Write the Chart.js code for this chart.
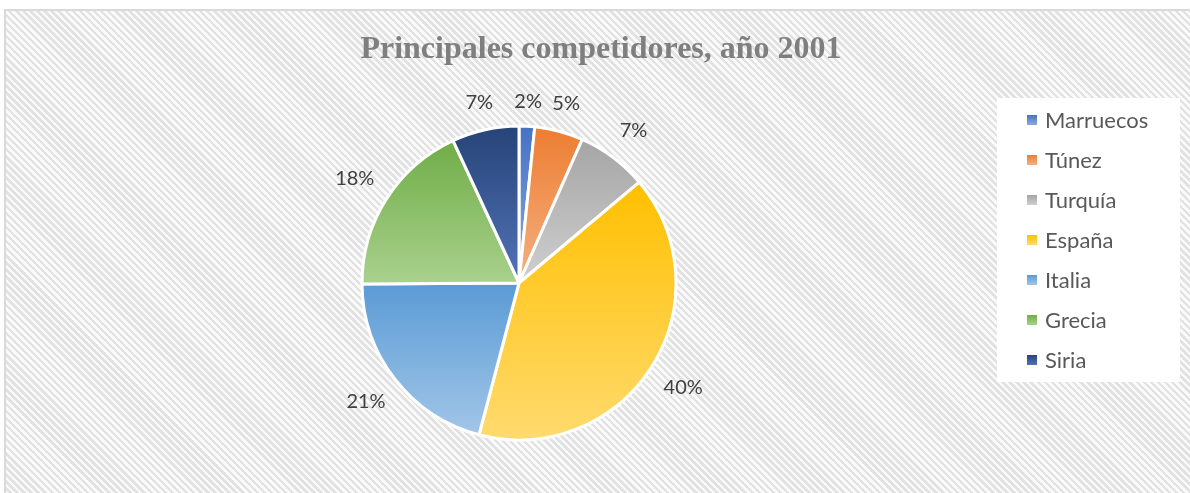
<!DOCTYPE html>
<html>
<head>
<meta charset="utf-8">
<script src="https://cdn.jsdelivr.net/npm/chart.js@4.4.1/dist/chart.umd.min.js"></script>
<style>
  body { margin: 0; background: #fff; overflow: hidden; }
  #frame {
    position: absolute; left: 4px; top: 9px; width: 1190px; height: 490px;
    border-left: 2px solid #d9d9d9; border-top: 2px solid #d9d9d9;
    background: repeating-linear-gradient(45deg, #fafafa 0 2.5px, #e2e2e2 2.5px 5px);
  }
  #wrap { position: absolute; left: 0; top: 0; width: 1190px; height: 493px; }
</style>
</head>
<body>
<div id="frame"></div>
<div id="wrap"><canvas id="pie" width="1190" height="493"></canvas></div>
<script>
// Principales competidores, año 2001 - pie chart

const chartTitle = 'Principales competidores, año 2001';
const categories = ['Marruecos', 'Túnez', 'Turquía', 'España', 'Italia', 'Grecia', 'Siria'];
const shares = [1.6, 5.0, 7.3, 40.2, 20.8, 18.2, 6.9];
const shareLabels = ['2%', '5%', '7%', '40%', '21%', '18%', '7%'];

const topColors = ['#4472c4', '#ed7d31', '#a5a5a5', '#ffc000', '#5b9bd5', '#70ad47', '#264478'];
const bottomColors = ['#8faadc', '#f4b183', '#cfcfcf', '#ffda6e', '#a2c6e8', '#a9d18e', '#5273b8'];

const PIE_RADIUS = 157;

// vertical gradient over each slice's own bounding box
function sliceGradient(ctx) {
  const chart = ctx.chart;
  const area = chart.chartArea;
  const i = ctx.dataIndex;
  if (!area) return topColors[i];
  const total = shares.reduce((a, b) => a + b, 0);
  let start = 0;
  for (let k = 0; k < i; k++) start += shares[k];
  const a0 = start / total * 2 * Math.PI;
  const a1 = (start + shares[i]) / total * 2 * Math.PI;
  const cy = (area.top + area.bottom) / 2;
  const ys = [cy, cy - PIE_RADIUS * Math.cos(a0), cy - PIE_RADIUS * Math.cos(a1)];
  if (a0 <= 0.0001) ys.push(cy - PIE_RADIUS);
  if (a0 <= Math.PI && a1 >= Math.PI) ys.push(cy + PIE_RADIUS);
  const g = chart.ctx.createLinearGradient(0, Math.min(...ys), 0, Math.max(...ys));
  g.addColorStop(0, topColors[i]);
  g.addColorStop(1, bottomColors[i]);
  return g;
}

// title, outside labels and legend box
const decorations = {
  id: 'decorations',
  afterDatasetsDraw(chart) {
    const c = chart.ctx;
    c.save();

    c.font = 'bold 32px "Liberation Serif"';
    c.fillStyle = '#7f7f7f';
    c.textAlign = 'center';
    c.textBaseline = 'alphabetic';
    c.fillText(chartTitle, 601, 58);

    const meta = chart.getDatasetMeta(0);
    c.font = '20px Lato';
    c.fillStyle = '#404040';
    c.textBaseline = 'middle';
    meta.data.forEach((arc, i) => {
      const mid = (arc.startAngle + arc.endAngle) / 2;
      const dist = arc.outerRadius + 24 + 16 * Math.abs(Math.cos(mid));
      c.fillText(shareLabels[i], arc.x + Math.cos(mid) * dist, arc.y + Math.sin(mid) * dist);
    });

    c.fillStyle = '#ffffff';
    c.fillRect(997, 98, 183, 284);
    c.font = '22px Lato';
    c.textAlign = 'left';
    categories.forEach((name, i) => {
      const y = 120 + i * 40;
      const g = c.createLinearGradient(0, y - 5, 0, y + 5);
      g.addColorStop(0, topColors[i]);
      g.addColorStop(1, bottomColors[i]);
      c.fillStyle = g;
      c.fillRect(1027, y - 5, 10, 10);
      c.fillStyle = '#595959';
      c.fillText(name, 1045, y + 1);
    });
    c.restore();
  }
};

new Chart(document.getElementById('pie'), {
  type: 'pie',
  data: {
    labels: categories,
    datasets: [{
      data: shares,
      backgroundColor: sliceGradient,
      borderColor: '#ffffff',
      borderWidth: 3,
      hoverOffset: 0,
      radius: PIE_RADIUS
    }]
  },
  options: {
    responsive: false,
    animation: false,
    layout: { padding: { left: 0, right: 152, top: 110, bottom: 37 } },
    plugins: {
      legend: { display: false },
      title: { display: false },
      tooltip: { enabled: false }
    }
  },
  plugins: [decorations]
});
</script>
</body>
</html>
